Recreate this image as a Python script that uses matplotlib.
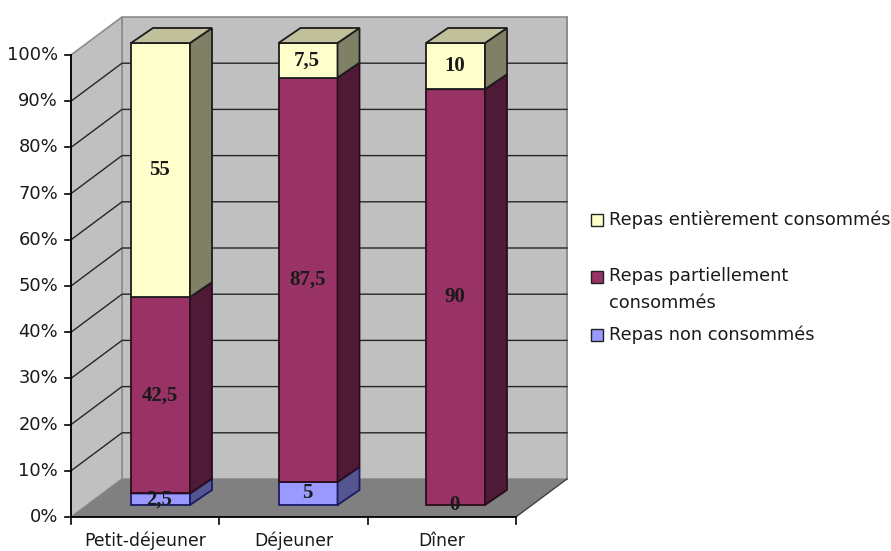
import matplotlib
matplotlib.use('Agg')
import matplotlib.pyplot as plt
from matplotlib.patches import Polygon, Rectangle

repas = ['Petit-déjeuner', 'Déjeuner', 'Dîner']
non_consommes = [2.5, 5, 0]
partiellement = [42.5, 87.5, 90]
entierement = [55, 7.5, 10]
labels_non = ['2,5', '5', '0']
labels_part = ['42,5', '87,5', '90']
labels_ent = ['55', '7,5', '10']
y_ticks = [0, 10, 20, 30, 40, 50, 60, 70, 80, 90, 100]
legend_txt = ['Repas entièrement consommés', 'Repas partiellement\nconsommés', 'Repas non consommés']

plt.rcParams['font.family'] = ['DejaVu Sans']

fig = plt.figure(figsize=(8.91, 5.51), dpi=100)
ax = fig.add_axes([0, 0, 1, 1])
ax.set_xlim(0, 891)
ax.set_ylim(551, 0)
ax.axis('off')

# repere du graphique en pixels
x0, y0 = 71, 517
step_x = 148.3
step_y = 4.62
dx_wall, dy_wall = 51, -38
text_col = '#1a1a1a'


def px(cat, val):
    return x0 + cat * step_x, y0 - val * step_y


def poly(pts, fc, ec='none', lw=0.0, z=1):
    ax.add_patch(Polygon(pts, closed=True, fc=fc, ec=ec, lw=lw, zorder=z, joinstyle='miter'))


# murs et sol
xl, yb = px(0, 0)
xr, yt = px(3, 100)
poly([(xl + dx_wall, yb + dy_wall), (xl + dx_wall, yt + dy_wall), (xr + dx_wall, yt + dy_wall), (xr + dx_wall, yb + dy_wall)],
     '#c0c0c0', '#8c8c8c', 1.2)
poly([(xl, yb), (xl, yt), (xl + dx_wall, yt + dy_wall), (xl + dx_wall, yb + dy_wall)], '#c0c0c0', '#8c8c8c', 1.2)
poly([(xl, yb), (xr, yb), (xr + dx_wall, yb + dy_wall), (xl + dx_wall, yb + dy_wall)], '#808080')
ax.plot([xr + dx_wall, xr + dx_wall], [yb + dy_wall, yt + dy_wall], color='#8c8c8c', lw=1.2, zorder=1.5)
ax.plot([xr, xr + dx_wall], [yb, yb + dy_wall], color='#404040', lw=1.0, zorder=1.5)

# grille
for t in y_ticks[1:-1]:
    _, y = px(0, t)
    ax.plot([xl, xl + dx_wall, xr + dx_wall], [y, y + dy_wall, y + dy_wall], color='#262626', lw=1.0, zorder=2)

# axes
ax.plot([xl, xl], [yb, yt], color='black', lw=1.3, zorder=3)
ax.plot([xl, xr], [yb, yb], color='black', lw=1.3, zorder=3)
for t in y_ticks:
    _, y = px(0, t)
    ax.plot([xl - 6, xl], [y, y], color='black', lw=1.2, zorder=3)
    ax.text(58, y, f'{t}%', ha='right', va='center', fontsize=12.9, color=text_col)
for i in range(4):
    x, _ = px(i, 0)
    ax.plot([x, x], [yb, yb + 7], color='black', lw=1.2, zorder=3)
for i, nom in enumerate(repas):
    x, _ = px(i + 0.5, 0)
    ax.text(x, 541, nom, ha='center', va='center', fontsize=12.4, color=text_col)

# barres empilees
bar_w = 59
bar_start = 160.5
bar_step = 147.5
off_y = -12
dx_bar, dy_bar = 22, -15
series = [
    (non_consommes, labels_non, '#9999ff', '#55558f', '#7a7acc', '#1a1a66'),
    (partiellement, labels_part, '#993366', '#4f1a35', '#7a2952', '#2a0d1c'),
    (entierement, labels_ent, '#ffffcc', '#808066', '#c0c09a', '#1c1c1c'),
]
for i in range(len(repas)):
    cum = 0
    cx = bar_start + i * bar_step
    left = cx - bar_w / 2
    right = left + bar_w
    for vals, labs, col, side, top, ec in series:
        v = vals[i]
        _, yl = px(0, cum)
        _, yh = px(0, cum + v)
        yl += off_y
        yh += off_y
        z = 4 + cum / 100
        if v > 0:
            ax.add_patch(Rectangle((left, yh), bar_w, yl - yh, fc=col, ec=ec, lw=1.3, zorder=z))
            poly([(right, yl), (right, yh), (right + dx_bar, yh + dy_bar), (right + dx_bar, yl + dy_bar)], side, ec, 1.3, z)
            poly([(left, yh), (right, yh), (right + dx_bar, yh + dy_bar), (left + dx_bar, yh + dy_bar)], top, ec, 1.3, z)
        ax.text(cx - 1, (yl + yh) / 2, labs[i], ha='center', va='center', fontsize=15,
                fontweight='bold', family=['Liberation Serif'], color=text_col, zorder=8)
        cum += v

# legende
legend_y = [220, 277, 335]
legend_col = ['#ffffcc', '#993366', '#9999ff']
for nom, y, col in zip(legend_txt, legend_y, legend_col):
    ax.add_patch(Rectangle((591, y - 6), 12, 12, fc=col, ec='#222222', lw=1.0, zorder=5))
    if '\n' in nom:
        ax.text(609, y + 12.5, nom, ha='left', va='center', fontsize=12.75, color=text_col, linespacing=1.65)
    else:
        ax.text(609, y, nom, ha='left', va='center', fontsize=12.75, color=text_col)

fig.savefig('out.png', dpi=100, facecolor='white')
